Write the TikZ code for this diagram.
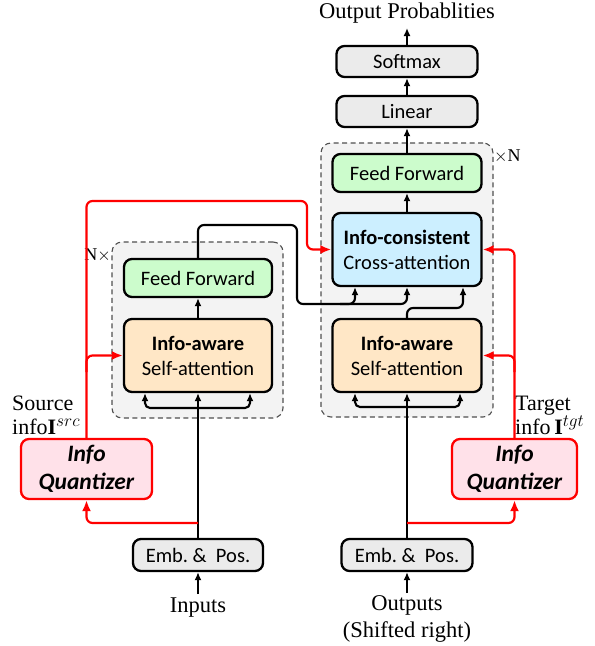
\documentclass[tikz,border=0pt]{standalone}
\usepackage{fontspec}
\setmainfont{Liberation Serif}
\newfontfamily\boxfont{Carlito}
\usetikzlibrary{arrows.meta,calc}
\DeclareMathSizes{22}{22}{16.5}{12}
\definecolor{ffgreen}{HTML}{CCFCCC}
\definecolor{crossblue}{HTML}{CCEFFF}
\definecolor{sapeach}{HTML}{FFE7C6}
\definecolor{qpink}{HTML}{FFE1E9}
\definecolor{boxgray}{HTML}{EBEBEB}
\definecolor{dashfill}{HTML}{F3F3F3}
\definecolor{dashline}{HTML}{505050}
\definecolor{redline}{HTML}{FF0000}
\begin{document}
\begin{tikzpicture}[x=1pt,y=-1pt,
  blk/.style={draw=black, line width=2.3pt, rounded corners=8pt, align=center, inner sep=0pt,
    font=\boxfont\fontsize{20.5}{25}\selectfont},
  graybox/.style={blk, fill=boxgray, minimum width=141pt, minimum height=31pt},
  embbox/.style={blk, fill=boxgray, minimum width=130pt, minimum height=32pt},
  ffbox/.style={blk, fill=ffgreen, minimum width=148pt, minimum height=38pt},
  crossbox/.style={blk, fill=crossblue, minimum width=149pt, minimum height=73pt},
  sabox/.style={blk, fill=sapeach, minimum width=148pt, minimum height=73pt},
  qbox/.style={blk, draw=redline, fill=qpink, minimum height=60pt,
    font=\boxfont\bfseries\itshape\fontsize{23.5}{28}\selectfont},
  dashbox/.style={draw=dashline, fill=dashfill, dash pattern=on 5pt off 3.5pt, line width=1.1pt, rounded corners=10pt, inner sep=0pt},
  serif/.style={font=\fontsize{22.5}{23}\selectfont, inner sep=0pt},
  lbl/.style={font=\fontsize{22}{23}\selectfont, inner sep=0pt, anchor=base west},
  conn/.style={draw=black, line width=2.1pt, -{Latex[length=8pt,width=7pt]}},
  redconn/.style={draw=redline, line width=2.2pt, -{Latex[length=11pt,width=9pt]}},
]
\useasboundingbox (0,0) rectangle (595,646);

% dashed stacks
\node[dashbox, minimum width=171pt, minimum height=176pt] (stackL) at (197.5,330) {};
\node[dashbox, minimum width=172pt, minimum height=274pt] (stackR) at (407,280) {};
\node[serif, font=\fontsize{18}{18}\selectfont, anchor=east] (nL) at (111,255) {N$\times$};
\node[serif, font=\fontsize{18}{18}\selectfont, anchor=west] (nR) at (494,156) {$\times$N};

% boxes
\node[graybox] (soft) at (407,61.5) {Softmax};
\node[graybox] (lin) at (407,111.5) {Linear};
\node[ffbox, minimum width=149pt] (ffR) at (407,173) {Feed Forward};
\node[crossbox] (cross) at (407,249.5) {\textbf{Info-consistent}\\Cross-attention};
\node[sabox, minimum width=149pt] (saR) at (407,355.5) {\textbf{Info-aware}\\Self-attention};
\node[ffbox] (ffL) at (198,278) {Feed Forward};
\node[sabox] (saL) at (198,355.5) {\textbf{Info-aware}\\Self-attention};
\node[qbox, minimum width=131pt] (qL) at (86.5,469) {Info\\Quantizer};
\node[qbox, minimum width=125pt] (qR) at (514.5,469) {Info\\Quantizer};
\node[embbox] (embL) at (198,555) {Emb.~\&~~Pos.};
\node[embbox, minimum width=131pt] (embR) at (407,555) {Emb.~\&~~Pos.};

% texts
\node[serif] (outp) at (407,13) {Output Probablities};
\node[serif] (inp) at (198,608) {Inputs};
\node[serif, align=center] (outs) at (407,618.5) {Outputs\\[4pt](Shifted right)};
\node[lbl] (src1) at (12,410) {Source};
\node[lbl] (src2) at (12,434) {info$\mathbf{I}^{src}$};
\node[lbl] (tgt1) at (515,410) {Target};
\node[lbl] (tgt2) at (515,434) {info\,$\mathbf{I}^{tgt}$};

% helper coordinates
\coordinate (outTip) at (407,28);
\coordinate (inTail) at (198,594);
\coordinate (outTail) at (407,593);
\coordinate (bL) at (198,408);
\coordinate (bR) at (407,407);
\coordinate (xa) at (145,0);
\coordinate (xb) at (250,0);
\coordinate (xc) at (355,0);
\coordinate (xd) at (460,0);
\coordinate (xe) at (463,0);
\coordinate (eB) at (297,225);
\coordinate (eD) at (407,304);
\coordinate (eS) at (340,304);
\coordinate (dT) at (463,308);
\coordinate (rL) at (198,523);
\coordinate (rR) at (407,523);
\coordinate (rTop) at (307,201);
\coordinate (ry) at (0,372);

% black connectors
\draw[conn] (soft) -- (outTip);
\draw[conn] (lin) -- (soft);
\draw[conn] (ffR) -- (lin);
\draw[conn] (cross) -- (ffR);
\draw[conn] (saL) -- (ffL);
\draw[conn] (inTail) -- (embL);
\draw[conn] (outTail) -- (embR);
\draw[conn] (embL) -- (saL);
\draw[conn] (embR) -- (saR);
\draw[conn, rounded corners=5pt] (bL) -| (saL.south -| xa);
\draw[conn, rounded corners=5pt] (bL) -| (saL.south -| xb);
\draw[conn, rounded corners=5pt] (bR) -| (saR.south -| xc);
\draw[conn, rounded corners=5pt] (bR) -| (saR.south -| xd);
\draw[conn, rounded corners=6pt] (ffL.north) |- (eB) |- (eD) -- (cross.south);
\draw[conn, rounded corners=6pt] (eS) -| (cross.south -| xc);
\draw[conn, rounded corners=6pt] (saR.north) |- (dT) -- (cross.south -| xe);

% red connectors
\draw[redconn, rounded corners=6pt] (rL) -| (qL.south);
\draw[redconn, rounded corners=6pt] (rR) -| (qR.south);
\draw[redconn, rounded corners=6pt] (qL.north) |- (rTop) |- (cross.west);
\draw[redconn, rounded corners=6pt] (qL.north |- ry) |- (saL.west);
\draw[redconn, rounded corners=6pt] (qR.north) |- (cross.east);
\draw[redconn, rounded corners=6pt] (qR.north |- ry) |- (saR.east);
\end{tikzpicture}
\end{document}
